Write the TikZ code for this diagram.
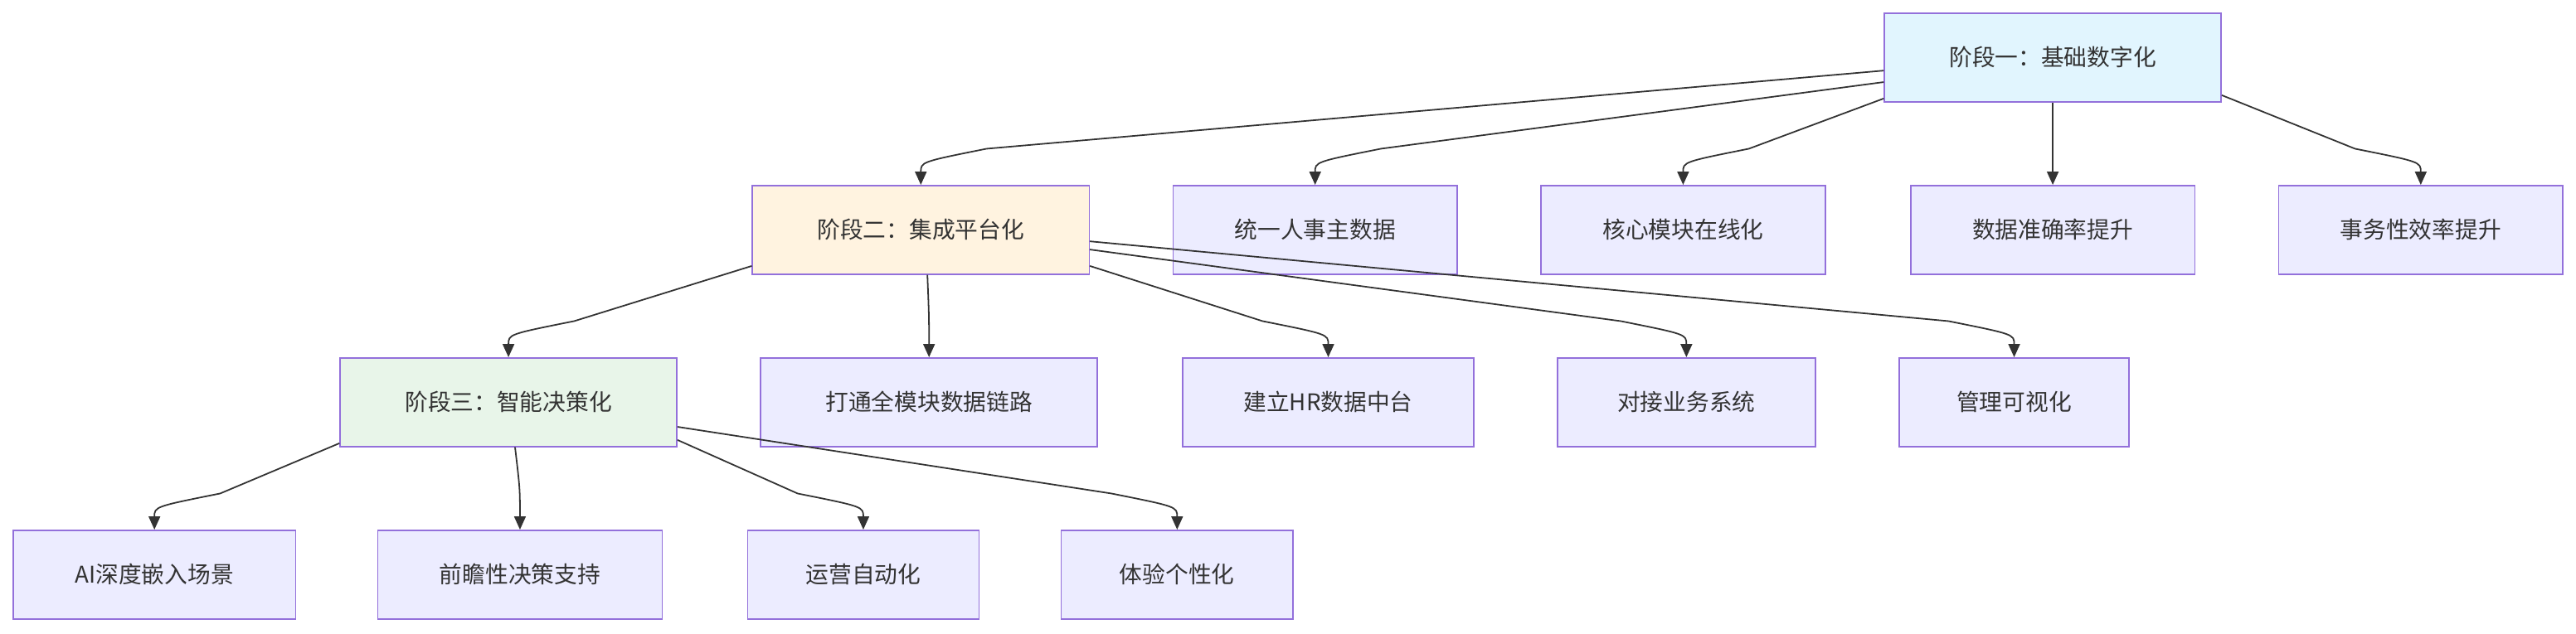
\documentclass[tikz,border=0pt]{standalone}
\usepackage{fontspec}
\setmainfont{Noto Sans CJK SC}
\usetikzlibrary{positioning, arrows.meta, calc}
\definecolor{boxFill}{HTML}{ECECFF}
\definecolor{boxLine}{HTML}{9370DB}
\definecolor{stageOne}{HTML}{E1F5FE}
\definecolor{stageTwo}{HTML}{FFF3E0}
\definecolor{stageThree}{HTML}{E8F5E9}
\definecolor{edgeGray}{HTML}{333333}
\tikzstyle{item} =[draw=boxLine, fill=boxFill, line width=0.8pt, minimum height=54pt, inner sep=0pt, font=\fontsize{14}{16}\selectfont, text=edgeGray]
\tikzstyle{link} =[-{Triangle[length=8pt,width=7pt]}, line width=0.9pt, draw=edgeGray]
\newcommand{\bendlink}[3]{\draw[link] (#1) -- ($(#2.north)+(#3,-22)$) .. controls ($(#2.north)+(0,-14)$) .. (#2.north);}

\begin{document}
\begin{tikzpicture}[x=1pt, y=-1pt]
\useasboundingbox (0,0) rectangle (1568,386);

\node (stageA) [item, fill=stageOne, minimum width=205pt] at (1249.5,35) {阶段一：基础数字化};

\node (stageB) [item, fill=stageTwo, minimum width=205pt] at (560.5,140) {阶段二：集成平台化};
\node (masterData) [item, minimum width=173pt] at (800.5,140) {统一人事主数据};
\node (coreOnline) [item, minimum width=173pt] at (1024.5,140) {核心模块在线化};
\node (accuracy) [item, minimum width=173pt] at (1249.5,140) {数据准确率提升};
\node (efficiency) [item, minimum width=173pt] at (1473.5,140) {事务性效率提升};

\node (stageC) [item, fill=stageThree, minimum width=205pt] at (309.5,245) {阶段三：智能决策化};
\node (dataChain) [item, minimum width=205pt] at (565.5,245) {打通全模块数据链路};
\node (hrHub) [item, minimum width=177pt] at (808.5,245) {建立HR数据中台};
\node (bizSystem) [item, minimum width=157pt] at (1026.5,245) {对接业务系统};
\node (visual) [item, minimum width=140pt] at (1226,245) {管理可视化};

\node (aiScene) [item, minimum width=172pt] at (94,350) {AI深度嵌入场景};
\node (foresight) [item, minimum width=173pt] at (316.5,350) {前瞻性决策支持};
\node (autoOps) [item, minimum width=141pt] at (525.5,350) {运营自动化};
\node (personal) [item, minimum width=141pt] at (716.5,350) {体验个性化};

% stage one
\coordinate (a1) at ($(stageA.west)+(0,8)$);
\coordinate (a2) at ($(stageA.west)+(0,15)$);
\coordinate (a3) at ($(stageA.west)+(0,25)$);
\coordinate (a4) at ($(stageA.east)+(0,23)$);
\bendlink{a1}{stageB}{40}
\bendlink{a2}{masterData}{40}
\bendlink{a3}{coreOnline}{40}
\draw[link] (stageA) -- (accuracy);
\bendlink{a4}{efficiency}{-40}

% stage two
\coordinate (b1) at ($(stageB.west)+(0,22)$);
\coordinate (b2) at ($(stageB.south)+(4,0)$);
\coordinate (b3) at ($(stageB.east)+(0,22)$);
\coordinate (b4) at ($(stageB.east)+(0,12)$);
\coordinate (b5) at ($(stageB.east)+(0,7)$);
\bendlink{b1}{stageC}{40}
\draw[link] (b2) .. controls ($(dataChain.north)+(0,-25)$) .. (dataChain.north);
\bendlink{b3}{hrHub}{-40}
\bendlink{b4}{bizSystem}{-40}
\bendlink{b5}{visual}{-40}

% stage three
\coordinate (c1) at ($(stageC.west)+(0,25)$);
\coordinate (c2) at ($(stageC.south)+(4,0)$);
\coordinate (c3) at ($(stageC.east)+(0,23)$);
\coordinate (c4) at ($(stageC.east)+(0,15)$);
\bendlink{c1}{aiScene}{40}
\draw[link] (c2) .. controls ($(foresight.north)+(0,-25)$) .. (foresight.north);
\bendlink{c3}{autoOps}{-40}
\bendlink{c4}{personal}{-40}
\end{tikzpicture}
\end{document}
